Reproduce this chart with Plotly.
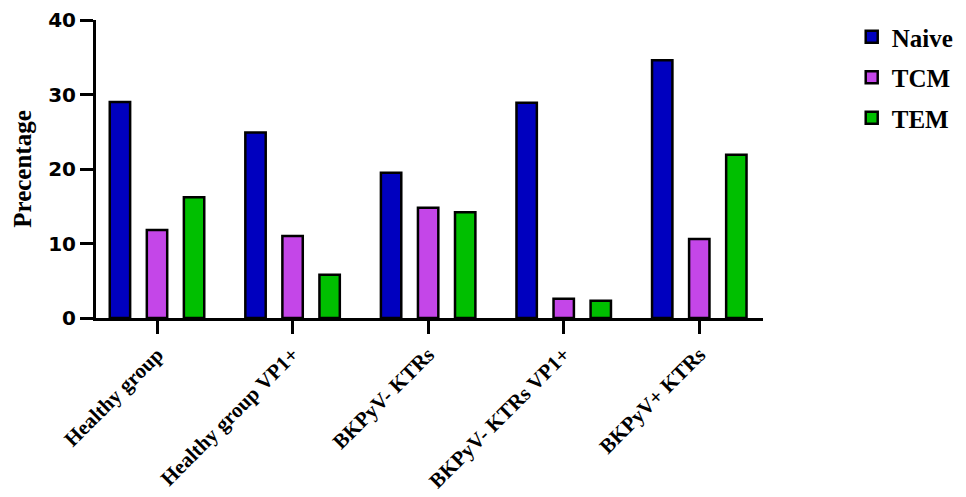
import plotly.graph_objects as go

categories = ["Healthy group", "Healthy group VP1+", "BKPyV- KTRs", "BKPyV- KTRs VP1+", "BKPyV+ KTRs"]
naive = [29.0, 24.9, 19.5, 28.9, 34.6]
tcm = [11.8, 11.0, 14.8, 2.6, 10.6]
tem = [16.2, 5.8, 14.2, 2.3, 21.9]
series_names = ["Naive", "TCM", "TEM"]
series_colors = ["#0000BF", "#C446E8", "#00BF00"]

fig = go.Figure()
for i, (name, vals, col) in enumerate(zip(series_names, [naive, tcm, tem], series_colors)):
    fig.add_trace(go.Bar(
        x=list(range(len(categories))), y=vals, name=name,
        marker=dict(color=col, line=dict(color="black", width=2.5)),
        legendgroup=name,
    ))

fig.update_layout(
    width=966, height=497,
    margin=dict(l=88, r=211, t=12, b=187, autoexpand=False),
    plot_bgcolor="white", paper_bgcolor="white",
    barmode="group", bargap=0.18, bargroupgap=0.45,
    showlegend=True,
    legend=dict(x=1.133, y=1.02, xanchor="left", yanchor="top",
                font=dict(family="Liberation Serif", size=25, color="black", weight="bold"),
                traceorder="grouped", tracegroupgap=5, bgcolor="rgba(0,0,0,0)"),
)
fig.update_xaxes(
    range=[-0.45, 4.47], tickmode="array", tickvals=list(range(len(categories))), ticktext=categories,
    tickangle=-45, showline=True, linecolor="black", linewidth=3,
    ticks="outside", ticklen=13, tickwidth=3, tickcolor="black",
    showgrid=False, zeroline=False, automargin=False,
    tickfont=dict(family="Liberation Serif", size=21, color="black", weight="bold"),
)
fig.update_yaxes(
    range=[0, 40], dtick=10, showline=True, linecolor="black", linewidth=3,
    ticks="outside", ticklen=13, tickwidth=3, tickcolor="black",
    showgrid=False, zeroline=False, automargin=False,
    tickfont=dict(family="DejaVu Sans", size=20, color="black", weight="bold"),
    title=dict(text="Precentage", font=dict(family="Liberation Serif", size=25, color="black", weight="bold"), standoff=10),
)
fig.write_html("out.html")
